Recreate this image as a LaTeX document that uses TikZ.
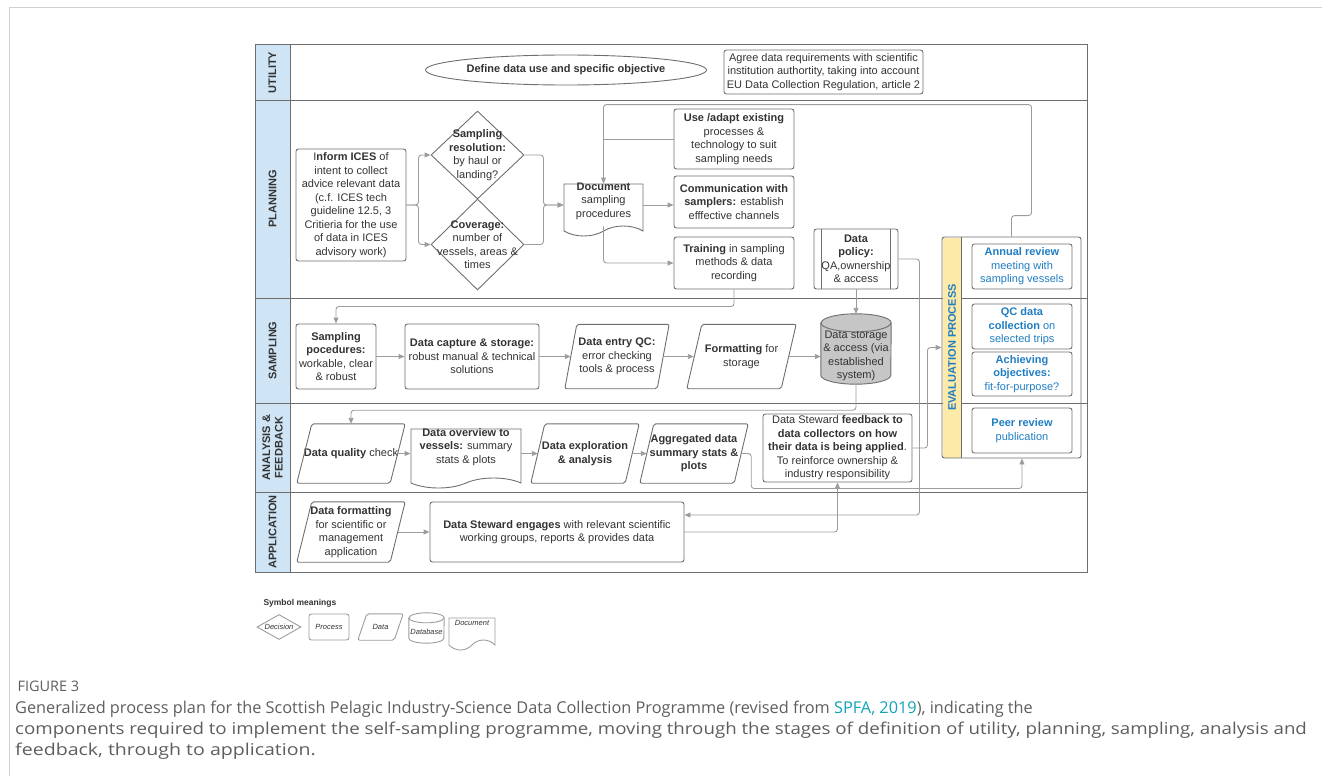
\documentclass[tikz,border=0pt]{standalone}
\usepackage{graphicx}
\usepackage{fontspec}
\setmainfont{Liberation Sans}
\newfontfamily\capfont{Open Sans}
\usetikzlibrary{shapes.geometric,shapes.symbols,arrows.meta}
\definecolor{lanebg}{HTML}{CFE5F5}
\definecolor{linegray}{HTML}{9C9C9C}
\definecolor{boxgray}{HTML}{6E6E6E}
\definecolor{txtgray}{HTML}{333333}
\definecolor{evalblue}{HTML}{1F7DC2}
\definecolor{evalyellow}{HTML}{FDE9A8}
\definecolor{dbgray}{HTML}{C6C6C6}
\definecolor{capgray}{HTML}{5E5E5E}
\definecolor{spfa}{HTML}{12A3B5}
\begin{document}
\begin{tikzpicture}[x=1pt,y=-1pt,font=\fontsize{11}{13.5}\selectfont,text=txtgray,
  box/.style={draw=boxgray,line width=0.9pt,rounded corners=2.5pt,align=center,inner sep=1pt},
  dia/.style={draw=boxgray,line width=0.9pt,diamond,inner sep=0},
  iobox/.style={align=center,inner sep=0},
  doc/.style={draw=boxgray,line width=0.9pt,tape,tape bend top=none,tape bend bottom=in and out,
    tape bend height=10pt,inner sep=0},
  txt/.style={align=center,inner sep=0},
  lane/.style={rotate=90,align=center,font=\bfseries\fontsize{11}{12.5}\selectfont},
  link/.style={draw=linegray,line width=0.9pt,rounded corners=3pt},
  arr/.style={link,-{Triangle[length=6pt,width=5pt]}},
  legtxt/.style={txt,font=\itshape\fontsize{7.5}{9}\selectfont}]
\useasboundingbox (0,0) rectangle (1322,776);
\draw[black!18] (9.5,776) -- (9.5,7.5) -- (1322,7.5);

% lanes
\fill[lanebg] (255,45) rectangle (290,572);
\foreach \y in {100,298,403,492}{\draw[boxgray,line width=1pt] (255,\y) -- (1087,\y);}
\draw[boxgray,line width=1pt] (255,45) rectangle (1087,572) (290,45) -- (290,572);
\node[lane] (lutil) at (272.5,72.5) {UTILITY};
\node[lane] (lplan) at (272.5,199) {PLANNING};
\node[lane] (lsamp) at (272.5,350.5) {SAMPLING};
\node[lane] (lanal) at (272.5,447.5) {ANALYSIS \&\\FEEDBACK};
\node[lane] (lappl) at (272.5,532) {APPLICATION};

% utility
\node[draw=boxgray,line width=0.9pt,ellipse,minimum width=222,minimum height=30,inner sep=0] (defobj) at (566,70) {\textbf{Define data use and specific objective}};
\node[box,minimum width=199,minimum height=44] (agree) at (823.5,72) {Agree data requirements with scientific\\institution authortity, taking into account\\EU Data Collection Regulation, article 2};

% planning
\node[box,minimum width=110,minimum height=112] (inform) at (351,205) {I\textbf{nform ICES} of\\intent to collect\\advice relevant data\\(c.f. ICES tech\\guideline 12.5, 3\\Critieria for the use\\of data in ICES\\advisory work)};
\node[dia,minimum width=93,minimum height=88] (dres) at (477.5,155) {};
\node[txt] (dres-t) at (dres) {\textbf{Sampling}\\\textbf{resolution:}\\by haul or\\landing?};
\node[dia,minimum width=93,minimum height=91] (dcov) at (477.5,244.5) {};
\node[txt] (dcov-t) at (dcov) {\textbf{Coverage:}\\number of\\vessels, areas \&\\times};
\node[doc,minimum width=79,minimum height=52] (docproc) at (603.5,205) {};
\node[txt] (docproc-t) at (603.5,201) {\textbf{Document}\\sampling\\procedures};
\node[box,minimum width=120,minimum height=60] (useadapt) at (734,139) {\textbf{Use /adapt existing}\\processes \&\\technology to suit\\sampling needs};
\node[box,minimum width=120,minimum height=52] (comms) at (734,202) {\textbf{Communication with}\\\textbf{samplers:} establish\\efffective channels};
\node[box,minimum width=120,minimum height=52] (training) at (734,263) {\textbf{Training} in sampling\\methods \& data\\recording};
\node[box,minimum width=84,minimum height=60] (policy) at (856,259) {\textbf{Data}\\\textbf{policy:}\\QA,ownership\\\& access};
\draw[boxgray,line width=0.9pt] ([xshift=8pt]policy.north west) -- ([xshift=8pt]policy.south west)
  ([xshift=-8pt]policy.north east) -- ([xshift=-8pt]policy.south east);

% evaluation
\fill[evalyellow] (942.5,237.5) rectangle (962,457.5);
\node[box,minimum width=139,minimum height=221] (eval) at (1011.5,347.5) {};
\draw[boxgray,line width=0.9pt] ([xshift=20pt]eval.north west) -- ([xshift=20pt]eval.south west);
\node[rotate=90,text=evalblue] (evaltitle) at (952,347.5) {\textbf{EVALUATION PROCESS}};
\node[box,text=evalblue,minimum width=100,minimum height=45] (annual) at (1022,266.5) {\textbf{Annual review}\\meeting with\\sampling vessels};
\node[box,text=evalblue,minimum width=100,minimum height=45] (qcdata) at (1022,326.5) {\textbf{QC data}\\\textbf{collection} on\\selected trips};
\node[box,text=evalblue,minimum width=100,minimum height=44] (achieve) at (1022,374) {\textbf{Achieving}\\\textbf{objectives:}\\fit-for-purpose?};
\node[box,text=evalblue,minimum width=100,minimum height=45] (peer) at (1022,430.5) {\textbf{Peer review}\\publication};

% sampling
\node[box,minimum width=80,minimum height=65] (sproc) at (336,356.5) {\textbf{Sampling}\\\textbf{pocedures:}\\workable, clear\\\& robust};
\node[box,minimum width=134,minimum height=65] (capture) at (472,356.5) {\textbf{Data capture \& storage:}\\robust manual \& technical\\solutions};
\node[iobox,minimum width=104,minimum height=64] (entryqc) at (617,356.5) {\textbf{Data entry QC:}\\error checking\\tools \& process};
\node[iobox,minimum width=109,minimum height=64] (fmtstore) at (741.5,356.5) {\textbf{Formatting} for\\storage};
\node[minimum width=70,minimum height=70,inner sep=0] (dbstore) at (856,349) {};

% analysis & feedback
\node[iobox,minimum width=108,minimum height=59] (dqcheck) at (351,453.5) {\textbf{Data quality} check};
\node[doc,minimum width=110,minimum height=59] (overview) at (466,453.5) {};
\node[txt] (overview-t) at (466,447) {\textbf{Data overview to}\\\textbf{vessels:} summary\\stats \& plots};
\node[iobox,minimum width=108,minimum height=59] (explore) at (585,453.5) {\textbf{Data exploration}\\\textbf{\& analysis}};
\node[iobox,minimum width=108,minimum height=59] (aggr) at (694,453.5) {\textbf{Aggregated data}\\\textbf{summary stats \&}\\\textbf{plots}};
\node[box,minimum width=149,minimum height=68] (feedback) at (837.5,448) {Data Steward \textbf{feedback to}\\\textbf{data collectors on how}\\\textbf{their data is being applied}.\\To reinforce ownership \&\\industry responsibility};

% application
\node[iobox,minimum width=108,minimum height=60] (fmtapp) at (351,532) {\textbf{Data formatting}\\for scientific or\\management\\application};
\node[box,minimum width=254,minimum height=60] (engages) at (557,532) {\textbf{Data Steward engages} with relevant scientific\\working groups, reports \& provides data};

% legend
\node[anchor=west,font=\bfseries\fontsize{8.5}{10}\selectfont] (legtitle) at (260,603) {Symbol meanings};
\node[dia,draw=linegray,minimum width=44,minimum height=25] (legdec) at (279,627) {};
\node[legtxt] (legdec-t) at (legdec) {Decision};
\node[box,draw=linegray,minimum width=40,minimum height=26,font=\itshape\fontsize{7.5}{9}\selectfont] (legproc) at (329,627) {Process};
\node[iobox,minimum width=45,minimum height=26,font=\itshape\fontsize{7.5}{9}\selectfont] (legdata) at (380.5,627) {Data};
\node[minimum width=35,minimum height=30,inner sep=0] (legdb) at (426.5,628) {};
\node[doc,draw=linegray,minimum width=46,minimum height=32] (legdoc) at (472,629) {};
\node[legtxt] (legdoc-t) at (472,623) {Document};

% data shapes and cylinders
\foreach \n/\s/\c in {entryqc/12/boxgray,fmtstore/15/boxgray,dqcheck/15/boxgray,explore/14/boxgray,aggr/14/boxgray,fmtapp/15/boxgray,legdata/9/linegray}{
  \draw[\c,line width=0.9pt,rounded corners=2pt] (\n.south west) -- ([xshift=\s pt]\n.north west) -- (\n.north east) -- ([xshift=-\s pt]\n.south east) -- cycle;}
\foreach \n/\r/\e/\f/\c in {dbstore/35/9/dbgray/boxgray,legdb/17.5/5/white/linegray}{
  \filldraw[draw=\c,fill=\f,line width=0.9pt] ([yshift=-\e pt]\n.north west) -- ([yshift=\e pt]\n.south west)
    arc[start angle=180,end angle=360,x radius=\r pt,y radius=\e pt] -- ([yshift=-\e pt]\n.north east)
    arc[start angle=0,end angle=180,x radius=\r pt,y radius=\e pt] -- cycle;
  \draw[\c,line width=0.9pt] ([yshift=-\e pt]\n.north west) arc[start angle=180,end angle=360,x radius=\r pt,y radius=\e pt];}
\node[txt] (dbstore-t) at (856,356) {Data storage\\\& access (via\\established\\system)};
\node[legtxt] (legdb-t) at (426.5,632) {Database};

% connectors
\draw[arr] (inform.east) -- ++(12,0) |- (dres.west);
\draw[arr] (inform.east) -- ++(12,0) |- (dcov.west);
\draw[arr] (dres.east) -- ++(19,0) |- (docproc.west);
\draw[arr] (dcov.east) -- ++(19,0) |- (docproc.west);
\draw[arr] (eval.north) -- ++(0,-21) -- ++(20,0) -- ++(0,-111) -| (docproc.north);
\draw[link] (useadapt.west) -- (useadapt.west -| docproc.north);
\draw[arr] (docproc.east) -- (docproc.east -| comms.west);
\draw[arr] (docproc.south) |- (training.west);
\draw[arr] (policy.south) -- (dbstore.north);
\draw[arr] (policy.east) -- ++(21,0) |- ([yshift=17pt]engages.east);
\draw[arr] (training.south) -- ++(0,17) -| (sproc.north);
\draw[arr] (sproc) -- (capture);
\draw[arr] (capture) -- ([xshift=6pt]entryqc.west);
\draw[arr] ([xshift=-6pt]entryqc.east) -- ([xshift=7pt]fmtstore.west);
\draw[arr] ([xshift=-7pt]fmtstore.east) -- (fmtstore.east -| dbstore.west);
\draw[arr] (dbstore.south) -- ++(0,26) -| (dqcheck.north);
\draw[arr] ([xshift=-7pt]dqcheck.east) -- (dqcheck.east -| overview.west);
\draw[arr] (explore.west -| overview.east) -- ([xshift=7pt]explore.west);
\draw[arr] ([xshift=-7pt]explore.east) -- ([xshift=7pt]aggr.west);
\draw[arr] ([xshift=-7pt]aggr.east) -- ++(10,0) -- ++(0,35) -| (peer.south |- eval.south);
\draw[arr] (feedback.east) -- ++(15,0) |- (eval.west);
\draw[arr] ([xshift=-7pt]fmtapp.east) -- (engages);
\draw[arr] (engages.east) -| (feedback.south);

% caption
\node[anchor=west,text=capgray,font=\capfont\fontsize{14.5}{16}\selectfont] (fignum) at (14,686) {FIGURE 3};
\node[anchor=north west,align=left,inner sep=0,text=capgray,font=\capfont\fontsize{16.3}{21}\selectfont] (caption) at (15,701) {Generalized process plan for the Scottish Pelagic Industry-Science Data Collection Programme (revised from \textcolor{spfa}{SPFA, 2019}), indicating the\\
  \scalebox{1.147}[1]{components required to implement the self-sampling programme, moving through the stages of definition of utility, planning, sampling, analysis and}\\
  \scalebox{1.2}[1]{feedback, through to application.}};
\end{tikzpicture}
\end{document}
